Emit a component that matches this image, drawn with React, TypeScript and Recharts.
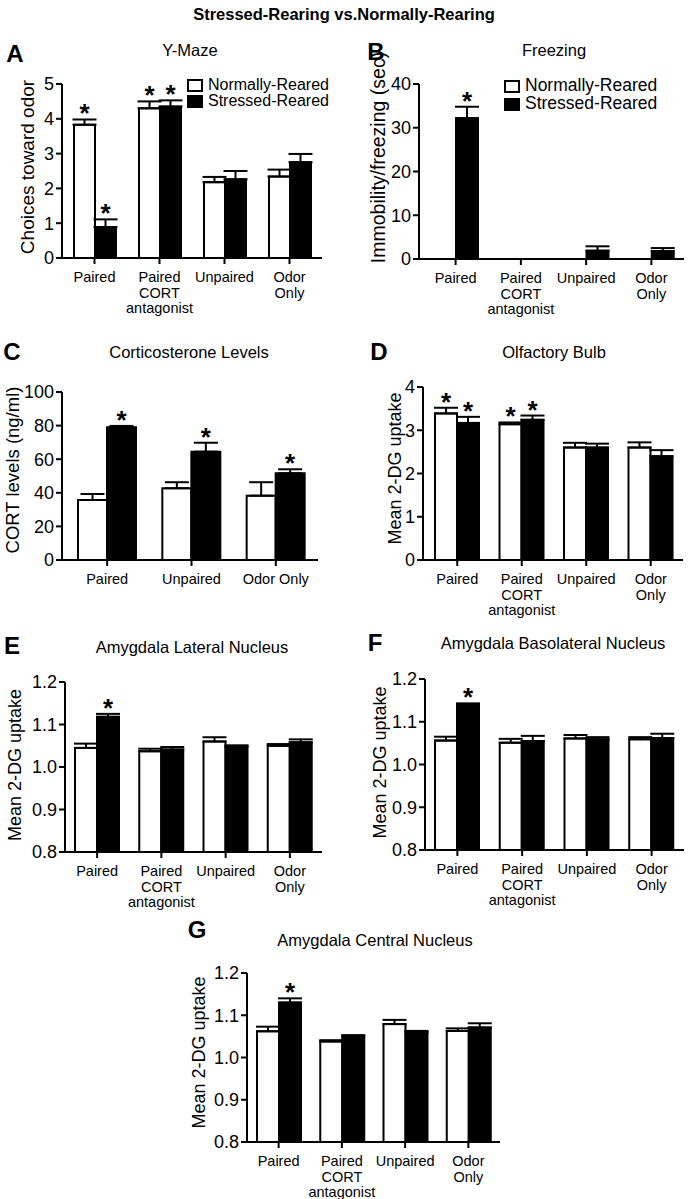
import React from 'react';
import { BarChart, Bar, XAxis, YAxis, ErrorBar, LabelList, Legend } from 'recharts';

const FONT = '"Liberation Sans", Arial, Helvetica, sans-serif';

// categories
const CATS = ['Paired', 'Paired\nCORT\nantagonist', 'Unpaired', 'Odor\nOnly'];
const CATS_CORT = ['Paired', 'Unpaired', 'Odor Only'];

// A - Y-Maze
const ymazeN = [3.83, 4.3, 2.18, 2.34];
const ymazeNErr = [0.15, 0.2, 0.15, 0.2];
const ymazeS = [0.89, 4.35, 2.26, 2.75];
const ymazeSErr = [0.22, 0.18, 0.24, 0.24];
const ymazeNStar = [true, true, false, false];
const ymazeSStar = [true, true, false, false];

// B - Freezing
const freezeN = [0, 0, 0, 0];
const freezeNErr = [0, 0, 0, 0];
const freezeS = [32.2, 0, 1.9, 1.8];
const freezeSErr = [2.6, 0, 1.0, 0.7];
const freezeNStar = [false, false, false, false];
const freezeSStar = [true, false, false, false];

// C - Corticosterone
const cortN = [35.7, 42.7, 38.3];
const cortNErr = [3.6, 3.6, 8.0];
const cortS = [79.0, 64.5, 51.6];
const cortSErr = [0.8, 5.3, 2.4];
const cortNStar = [false, false, false];
const cortSStar = [true, true, true];

// D - Olfactory bulb
const obN = [3.39, 3.14, 2.6, 2.6];
const obNErr = [0.13, 0.04, 0.11, 0.12];
const obS = [3.17, 3.24, 2.6, 2.4];
const obSErr = [0.14, 0.1, 0.09, 0.14];
const obNStar = [true, true, false, false];
const obSStar = [true, true, false, false];

// E - Amygdala lateral
const latN = [1.045, 1.037, 1.06, 1.05];
const latNErr = [0.01, 0.006, 0.01, 0.004];
const latS = [1.118, 1.041, 1.048, 1.058];
const latSErr = [0.007, 0.006, 0.003, 0.007];
const latNStar = [false, false, false, false];
const latSStar = [true, false, false, false];

// F - Amygdala basolateral
const blaN = [1.056, 1.051, 1.061, 1.059];
const blaNErr = [0.009, 0.009, 0.008, 0.005];
const blaS = [1.139, 1.055, 1.059, 1.062];
const blaSErr = [0.004, 0.012, 0.005, 0.01];
const blaNStar = [false, false, false, false];
const blaSStar = [true, false, false, false];

// G - Amygdala central
const ceN = [1.062, 1.038, 1.079, 1.063];
const ceNErr = [0.011, 0.003, 0.01, 0.006];
const ceS = [1.13, 1.05, 1.06, 1.071];
const ceSErr = [0.01, 0.003, 0.003, 0.01];
const ceNStar = [false, false, false, false];
const ceSStar = [true, false, false, false];

const TICKS_A = [0, 1, 2, 3, 4, 5];
const TICKS_B = [0, 10, 20, 30, 40];
const TICKS_C = [0, 20, 40, 60, 80, 100];
const TICKS_D = [0, 1, 2, 3, 4];
const TICKS_DG = [0.8, 0.9, 1.0, 1.1, 1.2];

const YW = 70;
const MT = 50;
const MR = 20;
const XH = 70;

const CatTick = (p: any) => {
  const lines = String(p.payload.value).split('\n');
  return (
    <text x={p.x} y={p.y} textAnchor="middle" fontSize={14.5} fill="#000">
      {lines.map((l, i) => (
        <tspan key={i} x={p.x} dy={i === 0 ? 14 : 15.5}>{l}</tspan>
      ))}
    </text>
  );
};

const starContent = (stars: boolean[], errs: number[], vals: number[], base: number) => (p: any) => {
  const i = p.index;
  if (!stars[i]) return null;
  const h = Math.abs(Number(p.height));
  const ppu = h / (vals[i] - base);
  const cx = Number(p.x) + Number(p.width) / 2;
  const y = Number(p.y) - errs[i] * ppu + 3;
  return (
    <text x={cx} y={y} textAnchor="middle" fontSize={26} fontWeight="bold" fill="#000">*</text>
  );
};

const legendContent = (cfg: any) => (p: any) => (
  <div style={{ fontFamily: FONT, fontSize: cfg.font, color: '#000' }}>
    {(p.payload || []).map((e: any, i: number) => (
      <div key={i} style={{ display: 'flex', alignItems: 'center', height: cfg.pitch, whiteSpace: 'nowrap', lineHeight: 1 }}>
        <span style={{ display: 'inline-block', width: 12, height: 9, border: '2px solid #000', background: e.color, marginRight: 5 }} />
        {e.value}
      </div>
    ))}
  </div>
);

function Panel(props: any) {
  const { x0, x1, yTop, yBot, domain, ticks, decimals, cats, n, nErr, s, sErr, nStar, sStar,
    barSize, yLabel, labelDist, labelDy, labelSize, padLeft, legend } = props;
  const left = x0 - YW;
  const top = yTop - MT;
  const width = x1 - x0 + YW + MR;
  const height = yBot - yTop + MT + XH;
  const data = cats.map((c: string, i: number) => ({
    cat: c, n: n[i], nErr: [0, nErr[i]], s: s[i], sErr: [0, sErr[i]],
  }));
  const ly = MT + (yBot - yTop) / 2 + (labelDy || 0);
  const lx = YW - labelDist;
  return (
    <div style={{ position: 'absolute', left, top }}>
      <BarChart width={width} height={height} data={data} barGap={0}
        margin={{ top: MT, right: MR, bottom: 0, left: 0 }}>
        <XAxis dataKey="cat" interval={0} height={XH} tickSize={6} tickMargin={4}
          tick={(tp: any) => <CatTick {...tp} />}
          padding={{ left: padLeft || 0, right: 0 }}
          axisLine={{ stroke: '#000', strokeWidth: 2 }} tickLine={{ stroke: '#000', strokeWidth: 2 }} />
        <YAxis type="number" domain={domain} ticks={ticks} interval={0} width={YW} allowDataOverflow
          tickSize={6} tickMargin={2} tick={{ fill: '#000', fontSize: 18 }}
          tickFormatter={(v: number) => (decimals ? v.toFixed(decimals) : String(v))}
          axisLine={{ stroke: '#000', strokeWidth: 2 }} tickLine={{ stroke: '#000', strokeWidth: 2 }}
          label={() => (
            <text x={lx} y={ly} transform={`rotate(-90 ${lx} ${ly})`} textAnchor="middle"
              dominantBaseline="central" fontSize={labelSize || 18} fill="#000">{yLabel}</text>
          )} />
        {legend && (
          <Legend layout="vertical" align="center" verticalAlign="middle"
            wrapperStyle={{ left: legend.x - left, top: legend.y - top, width: 'auto' }}
            content={legendContent(legend)} />
        )}
        <Bar dataKey="n" name="Normally-Reared" fill="#fff" stroke="#000" strokeWidth={2}
          barSize={barSize} isAnimationActive={false}>
          <ErrorBar dataKey="nErr" direction="y" width={12} stroke="#000" strokeWidth={2} isAnimationActive={false} />
          <LabelList dataKey="n" content={starContent(nStar, nErr, n, domain[0])} />
        </Bar>
        <Bar dataKey="s" name="Stressed-Reared" fill="#000" stroke="#000" strokeWidth={2}
          barSize={barSize} isAnimationActive={false}>
          <ErrorBar dataKey="sErr" direction="y" width={12} stroke="#000" strokeWidth={2} isAnimationActive={false} />
          <LabelList dataKey="s" content={starContent(sStar, sErr, s, domain[0])} />
        </Bar>
      </BarChart>
    </div>
  );
}

const Caption = ({ x, y, size, bold, children }: any) => (
  <div style={{
    position: 'absolute', left: x, top: y, transform: 'translate(-50%, -50%)', whiteSpace: 'nowrap',
    fontSize: size, fontWeight: bold ? 'bold' : 'normal', lineHeight: 1,
  }}>{children}</div>
);

export default function App() {
  return (
    <div style={{ position: 'absolute', left: 0, top: 0, width: 688, height: 1199, background: '#fff', fontFamily: FONT, color: '#000' }}>
      <Caption x={344} y={14} size={16.5} bold>Stressed-Rearing vs.Normally-Rearing</Caption>

      <Caption x={15} y={54} size={24} bold>A</Caption>
      <Caption x={190} y={50} size={16.5}>Y-Maze</Caption>
      <Panel x0={62} x1={322} yTop={84} yBot={258} domain={[0, 5]} ticks={TICKS_A}
        cats={CATS} n={ymazeN} nErr={ymazeNErr} s={ymazeS} sErr={ymazeSErr} nStar={ymazeNStar} sStar={ymazeSStar}
        barSize={21} yLabel="Choices toward odor" labelDist={35} labelDy={-4} labelSize={19}
        legend={{ x: 187, y: 77, font: 16, pitch: 16 }} />

      <Caption x={376} y={52} size={24} bold>B</Caption>
      <Caption x={554} y={50} size={16.5}>Freezing</Caption>
      <Panel x0={419} x1={684} yTop={84} yBot={259} domain={[0, 40]} ticks={TICKS_B} padLeft={4}
        cats={CATS} n={freezeN} nErr={freezeNErr} s={freezeS} sErr={freezeSErr} nStar={freezeNStar} sStar={freezeSStar}
        barSize={22} yLabel="Immobility/freezing (sec)" labelDist={41} labelDy={-14} labelSize={19.5}
        legend={{ x: 504, y: 77, font: 17.5, pitch: 18 }} />

      <Caption x={12} y={352} size={24} bold>C</Caption>
      <Caption x={189} y={352} size={16.5}>Corticosterone Levels</Caption>
      <Panel x0={62} x1={318} yTop={392} yBot={560} domain={[0, 100]} ticks={TICKS_C} padLeft={3}
        cats={CATS_CORT} n={cortN} nErr={cortNErr} s={cortS} sErr={cortSErr} nStar={cortNStar} sStar={cortSStar}
        barSize={29} yLabel="CORT levels (ng/ml)" labelDist={50} labelDy={-6} labelSize={18.5} />

      <Caption x={379} y={352} size={24} bold>D</Caption>
      <Caption x={554} y={352} size={16.5}>Olfactory Bulb</Caption>
      <Panel x0={423} x1={683} yTop={387} yBot={560} domain={[0, 4]} ticks={TICKS_D} padLeft={2}
        cats={CATS} n={obN} nErr={obNErr} s={obS} sErr={obSErr} nStar={obNStar} sStar={obSStar}
        barSize={22} yLabel="Mean 2-DG uptake" labelDist={28} labelDy={-5} labelSize={18} />

      <Caption x={12} y={646} size={24} bold>E</Caption>
      <Caption x={192} y={647} size={16.5}>Amygdala Lateral Nucleus</Caption>
      <Panel x0={65} x1={322} yTop={682} yBot={852} domain={[0.8, 1.2]} ticks={TICKS_DG} decimals={1}
        cats={CATS} n={latN} nErr={latNErr} s={latS} sErr={latSErr} nStar={latNStar} sStar={latSStar}
        barSize={22} yLabel="Mean 2-DG uptake" labelDist={50} labelDy={-2} labelSize={18} />

      <Caption x={375} y={643} size={24} bold>F</Caption>
      <Caption x={553} y={643} size={16.5}>Amygdala Basolateral Nucleus</Caption>
      <Panel x0={425} x1={684} yTop={679} yBot={850} domain={[0.8, 1.2]} ticks={TICKS_DG} decimals={1}
        cats={CATS} n={blaN} nErr={blaNErr} s={blaS} sErr={blaSErr} nStar={blaNStar} sStar={blaSStar}
        barSize={22} yLabel="Mean 2-DG uptake" labelDist={45} labelDy={-2} labelSize={18} />

      <Caption x={197} y={930} size={24} bold>G</Caption>
      <Caption x={375} y={940} size={16.5}>Amygdala Central Nucleus</Caption>
      <Panel x0={247} x1={500} yTop={973} yBot={1142} domain={[0.8, 1.2]} ticks={TICKS_DG} decimals={1}
        cats={CATS} n={ceN} nErr={ceNErr} s={ceS} sErr={ceSErr} nStar={ceNStar} sStar={ceSStar}
        barSize={22} yLabel="Mean 2-DG uptake" labelDist={48} labelDy={-5} labelSize={18} />
    </div>
  );
}
